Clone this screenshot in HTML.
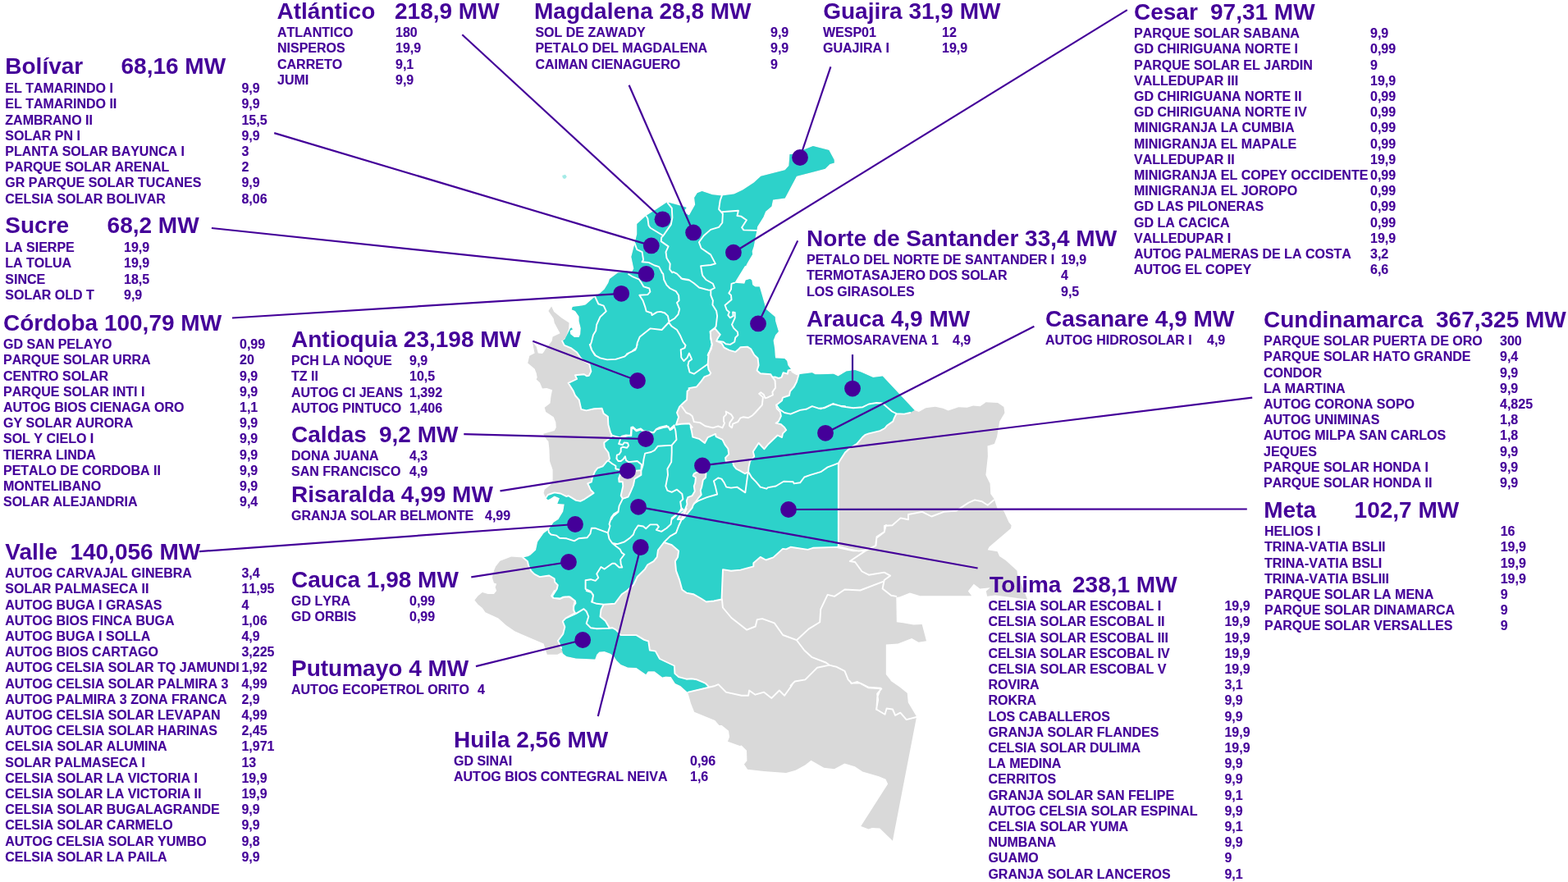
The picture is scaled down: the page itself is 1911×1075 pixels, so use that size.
<!DOCTYPE html>
<html lang="es"><head><meta charset="utf-8"><title>Granjas solares por departamento</title>
<style>
html,body{margin:0;padding:0;background:#fff;}
body{width:1911px;height:1075px;position:relative;overflow:hidden;font-family:"Liberation Sans",Arial,sans-serif;font-weight:bold;color:#440099;}
svg{position:absolute;left:0;top:0;}
.h,.r{position:absolute;white-space:pre;margin:0;font-kerning:none;font-variant-ligatures:none;}
.h{font-size:28px;line-height:32px;height:32px;font-kerning:normal;}
.r{font-size:16px;line-height:19px;height:19px;-webkit-text-stroke:0.15px #440099;}
.k::first-letter{letter-spacing:-2.6px;}
</style></head><body>
<svg width="1911" height="1075" viewBox="0 0 1911 1075">
<path d="M685.2,415.7 L689.4,411.5 L693.1,400.9 L693.6,393.6 L684.1,387.3 L675.2,379.9 L672.1,373.6 L668.4,378.9 L674.7,388.3 L675.7,393.6 L682.6,406.2 L673.6,410.4 L672.6,415.7 L665.2,425.1 L662.6,429.3 L661,430.9 L655.8,430.4 L653.7,422.5 L648.9,416.7 L650.5,425.1 L651.6,430.4 L645.3,433.7 L643.2,442.6 L651.6,449.4 L653.7,454.7 L654.7,459.9 L653.7,462.6 L657.9,466.3 L661,473.6 L666.3,473.1 L673.1,475.2 L671.5,483.1 L670.5,491.5 L663.7,496.7 L665.2,502 L674.7,508.3 L677.3,514.6 L677.8,520.9 L675.7,525.1 L662.1,528.8 L664.7,533.7 L668.4,537.9 L669.4,547.3 L670,562 L673.6,572.6 L673.6,585.2 L671.5,590.4 L663.7,596.7 L662.6,600.9 L665.2,606.7 L667.9,609.3 L671.5,607.2 L675.7,604.6 L682,607.2 L679.4,614.1 L687.8,614.6 L686.3,623.5 L680.5,633 L674.7,636.8 L668.4,645.8 L662.6,650 L655.2,660.5 L653.1,670.5 L646.3,676.8 L643.2,678.3 L640,678.9 L637.3,679.4 L623.1,678.4 L609.4,683.7 L604.1,690.5 L601.5,696.8 L599.9,704.1 L602,710.5 L605.2,711.5 L603.6,715.7 L605.2,719.9 L602,724.1 L594.7,724.1 L587.9,722 L582.6,726.2 L578.4,731.5 L582.6,736.7 L587.9,740.9 L591.5,746.2 L607.3,753.6 L616.8,762 L627.3,769.3 L635.7,773 L662.6,784.6 L666.8,797.8 L679.4,797.8 L684,795.2 L686.3,796.7 L690.5,799.9 L702,802.5 L725.2,803.6 L727.3,797.8 L730.4,794.6 L736.7,794.1 L744.1,796.7 L748.3,799.9 L751.5,805.1 L756.7,809.9 L765.1,813.6 L775.6,814.1 L787.2,822 L789.8,818.3 L797.7,818.3 L807.2,825.6 L811.4,824.6 L817.7,825.1 L822.9,833 L829.3,836.1 L837.7,843.4 L838.8,845.7 L842,857.2 L846.2,867.7 L871.3,878.1 L876.5,884 L879.7,884 L888,890.7 L889.1,898 L887,903.7 L901.6,909.1 L903.7,908.5 L910,914.8 L910.4,927.3 L906.9,931.5 L911.1,937.8 L930.9,939.9 L958.1,942 L969.7,938.8 L981.2,932.6 L988.5,926.7 L1004.2,935.7 L1016.8,937.2 L1029.3,930.5 L1041.9,934.2 L1051.3,940.5 L1071.2,946.2 L1079.5,949.7 L1082.1,955.6 L1049.2,1006.9 L1058.6,1010.4 L1062.8,1009 L1072.2,1009.6 L1087.9,1024.7 L1116.8,875 L1116.8,872.9 L1106.8,856.2 L1105.7,844.7 L1096.3,837.3 L1085.8,830 L1085,828.4 L1079.8,822.1 L1079.8,785.5 L1094.4,784.4 L1111.2,778.1 L1119.5,782.8 L1129,781.3 L1123.7,761 L1113.3,761.4 L1100.7,759.3 L1092.8,758.3 L1092.3,727.9 L1092.6,728.1 L1096.3,727.5 L1108.9,722.4 L1121.4,726.2 L1184.2,726.2 L1179.8,720.6 L1186.8,711.8 L1194.3,717.4 L1206.8,716.2 L1201.8,720.6 L1203.1,726.8 L1213.1,725.6 L1252.1,730.6 L1240.1,700.5 L1239.5,695.4 L1225.7,682.9 L1218.1,677.9 L1215.6,672.2 L1203.7,670.3 L1205.6,666.6 L1232,644 L1232.6,640.2 L1229.5,636.4 L1223.2,622.6 L1215.6,620.1 L1211.9,608.8 L1211.9,608.4 L1207.3,602.1 L1206.6,589.5 L1201.4,579.1 L1203.9,556 L1203.5,543.5 L1211.9,540.9 L1215,532.6 L1218.2,513.7 L1224.4,503.3 L1223.4,495.9 L1216.1,491.1 L1201.4,490.3 L1200,491.5 L1194.5,495.2 L1186.1,494.6 L1178.7,496.7 L1168.2,496.2 L1155.6,500.4 L1149.3,497.8 L1139.8,495.7 L1128.2,497.3 L1119.8,502 L1114.6,499.9 L1114.6,499.9 L1075.7,458.4 L1064.1,459.9 L1049.4,453.6 L1042,451 L1031.5,452.6 L1021.5,458.4 L1015.8,455.7 L1000,456.3 L993.5,456.3 L989.8,454.2 L973.5,456.3 L973.5,456.3 L970.9,456.3 L965.6,453.1 L964.5,450.7 L960.3,445.2 L959.1,440 L956.1,437 L945.1,436.5 L944.6,433 L944.1,425.1 L942.5,415.1 L945.1,408.3 L948.8,404.1 L945.1,391.5 L944.6,386.2 L933.5,376.8 L928.8,359.9 L925.7,349.4 L920.4,349.4 L917.2,347.3 L916.2,341.5 L914.1,340 L908.8,341.5 L907.3,345.8 L895.2,344.7 L895.2,344.7 L907.8,324.2 L909.9,323.7 L909.2,323.5 L912.4,317.8 L917.1,309.9 L916.6,306.2 L918.7,299.9 L920.8,288.3 L922,283 L923.1,276.2 L930.4,264.6 L933.1,257.8 L940.4,251.5 L942,243.6 L956.7,241.5 L970.9,214.7 L991.4,209.4 L1005.6,205.7 L1011.4,200 L1016.8,198.4 L1016.6,194.7 L1010.3,183.1 L990.9,177.9 L980.9,182.1 L966.2,188.1 L962.5,188.1 L961.4,202.1 L956.7,207.3 L927.3,214.7 L918.9,222.6 L905.2,231.5 L894.7,236.4 L879.8,238.4 L868.2,237.3 L855.6,233.1 L849.8,235.2 L846.2,241 L847.2,249.4 L839.9,262.6 L832.5,258.4 L836.7,253.1 L830.4,251 L815.7,247.1 L812.5,246.8 L800.4,254.7 L787.3,263.1 L776.3,273.1 L776.3,285.2 L773.6,296.7 L769.4,313 L772.4,327.4 L770.3,331 L753,332.6 L743,340 L741.4,344.7 L736.7,352.6 L731.5,357.3 L725.1,361.5 L713.6,371.5 L709.4,372.6 L697.8,374.1 L696.8,377.3 L701,378.9 L705.7,385.7 L705.7,391.5 L707.8,399.9 L707.3,407.2 L705.7,410.9 L699.9,410.9 L695.2,407.2 L694.7,403 L697.8,401.5 L696.8,399.4 L695.2,399.9 L691.5,407.2 L688.4,413.6 L685.2,415.7Z" fill="#D9D9D9"/>
<path d="M685.2,415.7 L687.8,420.9 L695.7,424.1 L703.1,429.5 L707.3,435.8 L711.5,440 L718.3,443.7 L719.4,448.4 L720.4,452.6 L717.8,457.8 L715.2,458.4 L712,456.3 L701,457.3 L703.1,462 L692.6,466.8 L698.9,476.8 L701,482 L705.7,487.3 L708.3,498.8 L714.6,500.4 L724.1,498.3 L733.6,497.8 L735.7,504.1 L740.9,507.8 L741.4,517.8 L744.1,527.4 L746.2,531 L740.9,535.8 L736.2,539.4 L736.7,545.2 L741.4,551.5 L743,558.9 L741.4,561.5 L739.9,562 L734.6,568.4 L728.3,570.5 L725.1,574.7 L722,582 L720.9,587.3 L716.2,589.4 L717.8,592.5 L719.9,597.3 L723.6,600.9 L718.8,604.1 L712.5,608.3 L707.3,610.9 L702,609.9 L692.6,604.1 L690.5,605.1 L683.1,601.5 L675.7,600.4 L667.9,603 L665.2,606.7 L667.9,609.3 L671.5,607.2 L675.7,604.6 L682,607.2 L679.4,614.1 L687.8,614.6 L686.3,623.5 L680.5,633 L674.7,636.8 L668.4,645.8 L662.6,650 L655.2,660.5 L653.1,670.5 L646.3,676.8 L643.2,678.3 L637.3,679.4 L637.3,679.4 L643,684.2 L644.1,689.4 L647.2,695.7 L651.5,699.9 L657.8,703.1 L669.3,701.5 L675.6,705.2 L676.2,709.4 L679.8,713.1 L678.8,717.8 L673,726.7 L674.6,728.9 L683,729.4 L686.1,727.8 L693.5,727.3 L700.9,732.5 L699.8,736.2 L698.8,743 L700.9,747.2 L689.4,753.6 L685.8,757.3 L688.4,764.1 L686.3,772.6 L680,781 L684.2,789.9 L686.3,796.7 L690.5,799.9 L702,802.5 L725.2,803.6 L727.3,797.8 L730.4,794.6 L736.7,794.1 L744.1,796.7 L748.3,799.9 L751.5,805.1 L756.7,809.9 L765.1,813.6 L775.6,814.1 L787.2,822 L789.8,818.3 L797.7,818.3 L807.2,825.6 L811.4,824.6 L817.7,825.1 L822.9,833 L829.3,836.1 L837.7,843.4 L863.9,837.1 L860,833 L856.6,831.4 L849.2,828.3 L842.9,827.2 L836.6,827.7 L827.1,825.1 L822.4,820.9 L821.9,811.5 L804,803 L798.8,793.6 L791.9,792.5 L790.3,781.5 L785.1,779.9 L775.6,774.1 L767.2,774.1 L756.7,774.1 L754.6,771.5 L750.4,767.3 L746.2,765.2 L743,765.7 L737.8,756.8 L731.5,751.5 L732.5,743.1 L735.7,736.8 L749.3,735.8 L757.8,724.2 L764.1,720 L772.4,712.5 L776.7,703 L786.1,693.6 L789.3,688.3 L796.6,684.1 L800.8,678.9 L801.9,670.5 L809.2,661 L818.7,664.1 L827.1,671.5 L826.1,678.9 L822.9,684.1 L824,695.7 L828.2,707.2 L831.3,718.8 L836.6,722.6 L845,724.2 L854.5,729.5 L860.7,733.5 L870,732.5 L879.5,730.5 L881,694.1 L891,695.7 L902.5,694.6 L918.3,690.4 L918.3,686.2 L926.7,678.9 L933.5,682.5 L942.5,679.4 L954,668.9 L958.2,669.4 L963.5,666.8 L984.5,669.9 L990.8,667.8 L1021.8,666.8 L1021.8,620 L1021.8,564.7 L1024.5,559.9 L1030,551.5 L1036,546 L1044.4,540.9 L1051,533 L1054.7,529.8 L1058.9,528.3 L1072.5,525.1 L1078.3,522 L1080.9,518.8 L1088.3,513.6 L1089.9,509.3 L1092.5,504.1 L1102,504.6 L1109.3,503 L1114.6,499.9 L1075.7,458.4 L1064.1,459.9 L1049.4,453.6 L1042,451 L1031.5,452.6 L1021.5,458.4 L1015.8,455.7 L1000,456.3 L993.5,456.3 L989.8,454.2 L973.5,456.3 L973.5,456.3 L970.9,456.3 L965.6,453.1 L964.5,450.7 L960.3,445.2 L959.1,440 L956.1,437 L945.1,436.5 L944.6,433 L944.1,425.1 L942.5,415.1 L945.1,408.3 L948.8,404.1 L945.1,391.5 L944.6,386.2 L933.5,376.8 L928.8,359.9 L925.7,349.4 L920.4,349.4 L917.2,347.3 L916.2,341.5 L914.1,340 L908.8,341.5 L907.3,345.8 L895.2,344.7 L895.2,344.7 L907.8,324.2 L909.9,323.7 L909.2,323.5 L912.4,317.8 L917.1,309.9 L916.6,306.2 L918.7,299.9 L920.8,288.3 L922,283 L923.1,276.2 L930.4,264.6 L933.1,257.8 L940.4,251.5 L942,243.6 L956.7,241.5 L970.9,214.7 L991.4,209.4 L1005.6,205.7 L1011.4,200 L1016.8,198.4 L1016.6,194.7 L1010.3,183.1 L990.9,177.9 L980.9,182.1 L966.2,188.1 L962.5,188.1 L961.4,202.1 L956.7,207.3 L927.3,214.7 L918.9,222.6 L905.2,231.5 L894.7,236.4 L879.8,238.4 L868.2,237.3 L855.6,233.1 L849.8,235.2 L846.2,241 L847.2,249.4 L839.9,262.6 L832.5,258.4 L836.7,253.1 L830.4,251 L815.7,247.1 L812.5,246.8 L800.4,254.7 L787.3,263.1 L776.3,273.1 L776.3,285.2 L773.6,296.7 L769.4,313 L772.4,327.4 L770.3,331 L753,332.6 L743,340 L741.4,344.7 L736.7,352.6 L731.5,357.3 L725.1,361.5 L713.6,371.5 L709.4,372.6 L697.8,374.1 L696.8,377.3 L701,378.9 L705.7,385.7 L705.7,391.5 L707.8,399.9 L707.3,407.2 L705.7,410.9 L699.9,410.9 L695.2,407.2 L694.7,403 L697.8,401.5 L696.8,399.4 L695.2,399.9 L691.5,407.2 L688.4,413.6 L685.2,415.7Z" fill="#2DD2CA"/>
<path d="M871,399.9 L877.8,407.8 L875.2,411.5 L873.1,415.7 L879.4,418.3 L882.6,423.7 L888.9,426.8 L896.2,428.9 L899.4,426.3 L902.5,423.2 L910.9,422.6 L915.1,425.3 L919.3,432.6 L923.6,436.8 L924.6,445.2 L922.5,451.5 L926.7,455.2 L939.3,456.3 L941.4,459.7 L944.6,459.4 L948.8,461 L952.5,459.9 L954.6,454.2 L959.8,455.7 L960.6,451.5 L964.5,450.7 L965.6,453.1 L970.9,456.3 L973.5,456.3 L970.9,465.2 L967.7,471.5 L963,476.8 L961.9,482 L954,484.6 L953,488.3 L947.7,492.5 L946.2,493.6 L946.7,497.8 L950.9,502 L951.9,507.2 L948.8,513.6 L945.6,515.7 L951.9,517.2 L956.1,520.9 L958.2,524.2 L954,528.4 L953,533.1 L947.7,530.5 L936.2,541.5 L931.4,547.3 L924.6,540 L917.8,550.5 L919.3,556.3 L914.1,562 L912.5,569.4 L912,575.2 L907.8,577.3 L902.5,574.1 L897.3,571.5 L894.1,567.3 L893.1,563.1 L884.7,562 L884.1,557.8 L888.3,553.6 L887.3,546.8 L883.6,542.1 L880.5,535.8 L872.6,532.1 L872,528.9 L862.6,533.1 L858.9,540 L852.6,535.2 L844.2,532.6 L843.1,526.3 L841.6,520 L843.7,520.9 L840,516.2 L830,516.7 L823.9,517.7 L827.1,508.3 L825,503 L828.2,495.7 L832.4,491.5 L837.1,487.3 L837.6,476.8 L840,474.7 L839.5,473.1 L848.9,471.5 L854.2,465.2 L858.4,459.4 L864.7,456.8 L866.3,454.7 L863.6,450.5 L862.6,444.2 L863.1,437.9 L863.6,430.5 L866.8,425.3 L867.8,420 L867.8,419.9 L866.3,412.5 L865.7,404.1 L871,399.9Z" fill="#D9D9D9" stroke="#fff" stroke-width="1.9" stroke-linejoin="round"/>
<path d="M755.6,578.9 L764,574.7 L781.4,573.1 L781.4,578.9 L773.5,583.6 L771.9,591.5 L768.8,598.8 L765.6,605.7 L758.8,607.8 L756.7,604.1 L759.3,592.5 L758.8,587.3 L754.6,587.3 L754.1,583.1Z" fill="#D9D9D9" stroke="#fff" stroke-width="1.9" stroke-linejoin="round"/>
<path d="M851,574.7 L845.8,577.3 L844.7,579.9 L847.9,582 L847.3,588.3 L845.8,592.5 L846.8,598.8 L843.7,604.1 L838.4,606.2 L836.8,610.4 L837.4,614.6 L835.3,619.9 L832.6,624.1 L830,626.2 L825.8,633 L832.1,633 L835.3,629.3 L838.4,625.1 L843.7,618.8 L844.7,615.7 L847.9,611.5 L851,607.2 L854.7,603 L853.7,597.8 L855.2,593.6 L856.8,585.2 L860,582 L860.5,577.3 L857.3,574.7Z" fill="#D9D9D9" stroke="#fff" stroke-width="1.9" stroke-linejoin="round"/>
<path d="M787.3,263.1 L789.4,266.3 L790.5,274.7 L792.6,277.8 L808.3,287.3 L817.8,273.6 L819.4,265.2 L818.8,253.6 L813.6,247.1 M808.3,287.3 L806.2,289.4 L805.7,294.1 L814.6,300.4 L811.5,307.2 L812.5,314.6 L816.7,321.4 L816.2,328.3 L819.4,332.3 M773.6,296.7 L776.3,304.1 L782.6,307.2 L784.1,316.7 L782.6,319.3 L790.5,319.9 L797.8,323.5 L803.1,325.1 L807.3,333 M879.8,238.4 L877.7,244.2 L876.1,255.2 L880.9,260.5 L880.3,271.5 L876.1,276.8 L866.1,279.9 L857.7,287.3 L851.9,295.2 L854.6,302.5 L866.1,310.4 L871.9,321.4 L866.1,323 L854.1,324.1 L855.6,333 M880,258.3 L899.9,256.7 L898.4,263 L903.1,263.6 L909.9,268.3 L904.1,277.2 L906.3,280.4 L922,280.9 M766.1,334.2 L770.3,336.8 L778.8,340.5 L781.4,344.2 L784.5,349.4 L791.4,351.5 L792.4,355.7 L789.3,359.1 L779.3,359.7 L783.5,366.3 L786.1,373.6 L787.7,379.4 L794,381.5 L794.5,384.1 L800.8,380.4 L805,379.9 L810.3,381.5 L814,385.2 L815.5,392.5 M725.1,361.5 L729.3,370.5 L735.7,372.6 L738.8,379.4 L731.5,386.2 L727.2,395.7 L726.2,403 L723,408.3 L720.9,416.7 L719.4,420.9 L721.5,427.2 L725.1,433 M815.5,392.5 L806.6,402 L792.4,400.4 L779.8,410.4 L776.7,417.8 L775.6,424.1 L770.3,428.3 L764,431.4 L763,433 M806.4,331.8 L808.2,333.7 L809.2,341 L812.4,347.3 L816.6,351.5 L824,355.2 L827.1,359.9 L827.6,366.3 L825,368.9 L828.2,376.8 L826.6,383.1 L821.9,388.3 L815.5,392 M815.5,393.6 L818.7,397.8 L825,402 L829.2,409.3 L832.4,416.7 L835.5,420.9 L834.5,424.1 L829.7,426.2 L830.3,433 M820.3,331.4 L825,333.7 L831.3,340 L840,341.5 M718.8,420 L720.9,426.3 L726.2,433.7 L731.5,436.3 L739.9,438.4 L750.4,437.9 L760.9,434.7 L766.1,430.5 L774.5,426.3 L776.7,420 M835.5,420.9 L834.4,424.1 L829.7,426.2 L830.3,435.8 L833.4,440 L837.6,435.8 L840,430.5 L843.1,437.9 L839.5,440.5 L838.4,445.2 L840.5,453.6 L845.8,455.7 L853.1,450.5 L862.6,443.7 M756.7,533 L768.8,530.4 L769.3,520.9 L771.4,520.4 L775.6,524.1 L780.9,522.5 L784,525.1 L796.6,527.2 L799.8,523 L804,520.9 L812.4,518.8 L816.6,523 L821.9,518.3 M895.2,344.7 L891.5,345.8 L891,352.6 L888.3,357.3 L891,359.9 L891.5,365.2 L883.6,372 L885.7,377.8 L888.9,380.4 L887.3,384.1 L889.9,387.3 L893.6,385.2 L893.1,380.4 L895.7,381 L895.7,387.3 L892,395.7 L894.1,399.9 L898.9,404.6 L899.4,408.3 L896.2,411.5 L895.2,416.7 L889.9,419.9 L884.7,419.3 L881.5,416.7 L874.1,415.7 M855.5,333 L856.3,335.8 L860.5,341 L868.9,345.8 L871,351 L866.3,353.4 M830,339.4 L839.5,341 L845.8,345.2 L852.1,350.5 L863.6,353.6 L866.3,353.4 M866.3,353.4 L866.3,359.9 L868.9,366.3 L868.4,371.5 L873.1,378.9 L874.1,385.2 L872.6,397.8 L871,399.9 L865.7,404.1 L866.3,412.5 L867.8,419.9 L864.7,429.3 L862.6,433 M946.2,493.6 L949.8,498.8 L956.1,503 L963.5,504.6 L975.1,499.9 L982.4,498.8 L989.8,495.2 L998.2,497.8 L1004.5,497.3 L1015,492.5 L1024.5,494.6 L1030,495.2 M1000,498.3 L1006.3,496.2 L1015.2,492 L1025.2,495.2 L1039.9,497.3 L1051.5,496.2 L1058.9,492.5 L1068.3,491 L1075.7,491.5 L1079.9,495.2 L1087.2,501.5 L1092.5,504.1 M941.4,459.4 L944.6,464.1 L945.1,472.6 L941.4,477.8 L941.9,481.5 L935.1,484.6 L932.5,485.2 L930.9,481 L927.2,478.3 L925.1,479.9 L929.9,484.1 L928.8,493.6 L920.4,503 L917.2,506.2 L912,509.3 L905.7,508.3 L902.5,509.3 L899.4,514.1 L893.1,516.7 L892,521.4 L888.9,518.8 L889.4,515.1 L893.6,509.3 L891,505.1 L884.7,501.5 L885.2,505.1 L882,508.3 L882,513.6 L883.1,515.7 L880.5,521.4 L875.2,519.3 L868.9,521.4 L859.4,519.3 L853.1,515.1 L845.8,514.1 L843.7,507.2 L840.5,504.6 L836.3,503 L831.1,495.7 M745.1,530.5 L756.7,533.7 L757.7,531.6 L763,530.5 L769.3,531 L769.8,523.2 L771.4,521.6 L775.6,525.3 L780.9,523.7 L785.1,526.3 L796.6,527.4 L799.8,523.7 L808.2,521.1 L814.5,520 L816.6,524.2 L818.7,523.2 L821.9,520 M756.7,533.7 L754.1,541 L758.8,542.1 L760.9,539.4 L765.1,540 L766.1,543.1 L764,545.8 L758.8,544.7 L756.7,546.3 L756.7,550.5 L754.6,553.6 L751.9,554.7 L751.4,558.9 L753.5,562 L756.7,562 L759.8,559.4 L761.9,556.3 L763,561 L766.1,563.1 L776.7,562 L781.9,566.3 L781.4,572.6 M821.9,520 L823.4,525.3 L824.5,535.8 L818.7,542.6 L801.9,543.7 L797.7,548.9 L793.5,551 L786.1,552.6 L784.5,559.9 L783.5,567.3 L781.9,572.6 M818.7,542.6 L818.7,551.5 L818.2,563.1 L813.4,571.5 L814,578.9 L811.3,592.5 L813.4,597.8 L818.7,599.9 L825,596.7 L831.3,602 L832.4,608.3 L829.2,611.5 L830.3,618.8 L832.4,620.9 L827.1,625.1 L822.9,629.3 L818.7,633 M758.8,607.8 L757.7,610.4 L754.6,616.7 L753.5,624.1 L747.2,629.3 L745.1,633 M741.4,561.5 L746.2,565.2 L750.4,567.8 L750.4,571.5 L755.6,572.6 M911.5,576.8 L909.9,588.3 L908.3,600.4 L898.3,593.6 L891,594.6 L885.2,593.6 L882.6,588.3 L879.4,583.6 L875.2,582.5 L869.9,586.2 L872,593.6 L874.1,602.5 L861.5,606.2 L851,610.4 L845.8,613.6 M912.5,575.7 L916.2,582 L921.5,587.3 L926.7,593.6 L934.1,595.7 L936.2,594.1 L945.6,592.5 L955.1,586.7 L966.7,587.3 L967.7,589.4 L975.1,588.3 L980.3,581.5 L987.7,578.9 L1000.3,575.2 L1008.7,569.4 L1021.3,564.7 M668.4,645.8 L668.9,648.9 L671.5,651.5 L677.8,652.6 L682,655.7 L690.5,656.3 L699.9,659.4 L705.2,656.3 L715.7,655.2 L719.4,650.5 L720.9,643.7 L725.1,643.7 L740.9,649.4 M740.9,649.4 L743.5,641 L742.5,638.9 L745.1,630.5 L748.3,626.3 L753.5,623.2 L754.1,620 M740.9,649.4 L742.5,656.8 L746.2,662 L752.5,663.1 L760.9,660.5 L768.2,655.2 L771.9,651.5 L773.5,646.8 L777.7,640.5 L784,641.5 L787.2,644.2 L792.4,639.4 L800.8,639.4 L802.9,642.1 L799.8,645.8 L806.1,647.9 L812.4,643.7 L817.6,638.9 L818.7,631.6 L828.2,624.2 L830.3,620 M746.2,662 L751.4,666.3 L755.6,669.4 L757.7,673.6 L760.9,675.7 L756.2,682 L756.7,687.3 L758.3,691.5 L754.6,691.5 L749.3,686.7 L746.2,686.7 L736.7,693.6 L732.5,691 L727.2,699.4 L729.3,704.1 L725.7,707.8 L719.9,706.2 L713.6,707.2 L713.6,717.8 L719.9,720.9 L723,725.1 L722,733 M1080,640.8 L1087.5,640.2 L1097.6,631.4 L1107,633.3 L1107,627 L1124,623.9 L1135.3,629.5 L1150.3,623.9 L1165.4,622.6 L1172.9,617.6 L1180.5,612.6 L1188,609.4 L1196.8,611.3 L1203.7,615.7 L1211.2,609.4 M1021.4,665.9 L1034,669.1 L1046.5,671.6 L1057,670.1 L1067.5,664.9 L1068.5,654.4 L1077.9,648.1 L1077.9,640.8 L1080.4,640.2 M1021.2,667.2 L1040,671.4 L1054.7,671.4 L1035.8,684 L1042.1,685 L1050.5,696.5 L1058.8,700.7 L1077.7,697.6 L1085,701.7 L1077.7,707 L1075.6,717.4 L1086.1,725.8 L1092.3,726.9 M1054.7,671.4 L1067.2,665.1 L1068.3,655.7 L1077.7,648.4 L1079.8,640 M879.9,730 L880.9,740.5 L891.4,753 L910.2,767.7 L920.7,763.5 L922.8,755.1 L929.1,754.1 L943.7,759.3 L954.2,774 L970.9,780.2 M970.9,780.2 L985.6,766.6 L999.2,758.3 L1000.2,742.6 L1008.6,724.8 L1017,726.9 L1029.5,718.5 L1048.4,719.5 L1075.6,709.1 M970.9,780.2 L980.4,792.8 L989.8,801.2 L1006.5,807.5 L1010.7,810.6 L1019.1,812.7 L1029.5,817.9 L1033.7,828.4 L1037.9,832.6 L1048.4,832.6 L1058.8,837.8 L1073.5,838.8 L1069.3,849.3 L1068.3,865 M1010.7,810.6 L996.1,813.7 L985.6,824.2 L981.4,828.4 L968.8,830.5 L963.6,835.7 M838.8,843.6 L870.2,836.3 L875.5,834.2 L884.9,843.6 L903.7,847.8 L912.1,847.8 L913.1,841.5 L920.5,846.7 L930.9,843.6 L940.4,850.9 L949.8,841.5 L956.1,847.8 L964.4,836.3 L966.5,832.5 M1035.6,830 L1037.7,833.1 L1045,831 L1058.6,838.4 L1074.3,839.4 L1069.1,845.7 L1070.1,853 L1068,864.5 L1078.5,870.8 L1080.6,863.5 L1087.9,864.5 L1091.1,871.9 L1097.3,868.7 L1104.7,877.1 L1116.8,874 M675.8,720 L672.1,726.3 L674.2,728.9 L682.6,730 L688.4,727.4 L694.7,727.4 L701,732.6 L701.5,735.2 L698.9,738.9 L699.4,744.2 L700.5,746.3 L702,747.9 M684.2,789.9 L680,781 L686.3,772.6 L688.4,764.1 L685.8,757.3 L689.4,753.6 L702,747.9 L711.5,742.1 L714.7,745.2 L717.3,751.5 L714.7,759.9 L719.9,765.2 L727.3,766.3 L743,765.7 L746.2,765.2 L750.4,767.3 L754.6,771.5 L756.7,774.1 L767.2,774.1 L775.6,774.1 L785.1,779.9 L790.3,781.5 L791.9,792.5 L798.8,793.6 L804,803 L821.9,811.5 L822.4,820.9 L827.1,825.1 L836.6,827.7 L842.9,827.2 L849.2,828.3 L856.6,831.4 L860,833 M836.6,620 L832.4,629.5 L827.1,641 L824,649.4 L816.6,653.6 L809.2,661 M714.7,720 L721,722.1 L723.1,726.3 L721,733.7 L727.3,735.8 L735.7,736.8 M685.2,415.7 L687.8,420.9 L695.7,424.1 L703.1,429.5 L707.3,435.8 L711.5,440 L718.3,443.7 L719.4,448.4 L720.4,452.6 L717.8,457.8 L715.2,458.4 L712,456.3 L701,457.3 L703.1,462 L692.6,466.8 L698.9,476.8 L701,482 L705.7,487.3 L708.3,498.8 L714.6,500.4 L724.1,498.3 L733.6,497.8 L735.7,504.1 L740.9,507.8 L741.4,517.8 L744.1,527.4 L746.2,531 L740.9,535.8 L736.2,539.4 L736.7,545.2 L741.4,551.5 L743,558.9 L741.4,561.5 L739.9,562 L734.6,568.4 L728.3,570.5 L725.1,574.7 L722,582 L720.9,587.3 L716.2,589.4 L717.8,592.5 L719.9,597.3 L723.6,600.9 L718.8,604.1 L712.5,608.3 L707.3,610.9 L702,609.9 L692.6,604.1 L690.5,605.1 L683.1,601.5 L675.7,600.4 L667.9,603 L665.2,606.7 M637.3,679.4 L643,684.2 L644.1,689.4 L647.2,695.7 L651.5,699.9 L657.8,703.1 L669.3,701.5 L675.6,705.2 L676.2,709.4 L679.8,713.1 L678.8,717.8 L673,726.7 L674.6,728.9 L683,729.4 L686.1,727.8 L693.5,727.3 L700.9,732.5 L699.8,736.2 L698.8,743 L700.9,747.2 L689.4,753.6 L685.8,757.3 L688.4,764.1 L686.3,772.6 L680,781 L684.2,789.9 M863.9,837.1 L860,833 L856.6,831.4 L849.2,828.3 L842.9,827.2 L836.6,827.7 L827.1,825.1 L822.4,820.9 L821.9,811.5 L804,803 L798.8,793.6 L791.9,792.5 L790.3,781.5 L785.1,779.9 L775.6,774.1 L767.2,774.1 L756.7,774.1 L754.6,771.5 L750.4,767.3 L746.2,765.2 L743,765.7 L737.8,756.8 L731.5,751.5 L732.5,743.1 L735.7,736.8 L749.3,735.8 L757.8,724.2 L764.1,720 L772.4,712.5 L776.7,703 L786.1,693.6 L789.3,688.3 L796.6,684.1 L800.8,678.9 L801.9,670.5 L809.2,661 L818.7,664.1 L827.1,671.5 L826.1,678.9 L822.9,684.1 L824,695.7 L828.2,707.2 L831.3,718.8 L836.6,722.6 L845,724.2 L854.5,729.5 L860.7,733.5 L870,732.5 L879.5,730.5 L881,694.1 L891,695.7 L902.5,694.6 L918.3,690.4 L918.3,686.2 L926.7,678.9 L933.5,682.5 L942.5,679.4 L954,668.9 L958.2,669.4 L963.5,666.8 L984.5,669.9 L990.8,667.8 L1021.8,666.8 L1021.8,620 L1021.8,564.7 L1024.5,559.9 L1030,551.5 L1036,546 L1044.4,540.9 L1051,533 L1054.7,529.8 L1058.9,528.3 L1072.5,525.1 L1078.3,522 L1080.9,518.8 L1088.3,513.6 L1089.9,509.3 L1092.5,504.1 L1102,504.6 L1109.3,503" fill="none" stroke="#fff" stroke-width="1.9" stroke-linejoin="round" stroke-linecap="round"/>
<path d="M685.2,214 L689,212.8 L690.8,215.6 L688.6,217.9 L686,217.2Z" fill="#A5EBE7"/>
<g stroke="#440099" stroke-width="2.2"><line x1="563.3" y1="42.2" x2="807.5" y2="267.3"/><line x1="334.2" y1="162.1" x2="793.8" y2="299.4"/><line x1="257.9" y1="278" x2="787.6" y2="333.9"/><line x1="283" y1="387.5" x2="757.2" y2="357.8"/><line x1="649.3" y1="415.8" x2="777" y2="464"/><line x1="565.3" y1="529.1" x2="787" y2="535"/><line x1="609.5" y1="598.4" x2="765" y2="573.8"/><line x1="242.8" y1="672.1" x2="701" y2="639"/><line x1="574.3" y1="703.3" x2="693" y2="685"/><line x1="580" y1="812.1" x2="710.2" y2="780"/><line x1="728.8" y1="872.9" x2="780.8" y2="667"/><line x1="766.6" y1="103.8" x2="845.1" y2="283.4"/><line x1="1012.4" y1="81.4" x2="975" y2="192"/><line x1="1373.8" y1="12.1" x2="893.9" y2="307.7"/><line x1="972.2" y1="293.4" x2="924" y2="394.4"/><line x1="1039" y1="432.1" x2="1039" y2="473.6"/><line x1="1260.4" y1="397.8" x2="1006" y2="527.8"/><line x1="1526.2" y1="484.6" x2="856" y2="567.4"/><line x1="1519.8" y1="620.5" x2="961" y2="621"/><line x1="1191.6" y1="692.5" x2="778" y2="617.8"/></g>
<g fill="#440099"><circle cx="975" cy="192" r="9.9"/><circle cx="807.5" cy="267.3" r="9.9"/><circle cx="845.1" cy="283.4" r="9.9"/><circle cx="893.9" cy="307.7" r="9.9"/><circle cx="793.8" cy="299.4" r="9.9"/><circle cx="787.6" cy="333.9" r="9.9"/><circle cx="757.2" cy="357.8" r="9.9"/><circle cx="924" cy="394.4" r="9.9"/><circle cx="777" cy="464" r="9.9"/><circle cx="787" cy="535" r="9.9"/><circle cx="1039" cy="473.6" r="9.9"/><circle cx="1006" cy="527.8" r="9.9"/><circle cx="765" cy="573.8" r="9.9"/><circle cx="856" cy="567.4" r="9.9"/><circle cx="778" cy="617.8" r="9.9"/><circle cx="961" cy="621" r="9.9"/><circle cx="701" cy="639" r="9.9"/><circle cx="693" cy="685" r="9.9"/><circle cx="780.8" cy="667" r="9.9"/><circle cx="710.2" cy="780" r="9.9"/></g>
</svg>
<div class="h" style="left:337.5px;top:-2px">Atlántico</div>
<div class="h" style="left:481px;top:-2px">218,9 MW</div>
<div class="r" style="left:338px;top:30px">ATLANTICO</div><div class="r" style="left:482px;top:30px">180</div>
<div class="r" style="left:338px;top:49px">NISPEROS</div><div class="r" style="left:482px;top:49px">19,9</div>
<div class="r" style="left:338px;top:69px">CARRETO</div><div class="r" style="left:482px;top:69px">9,1</div>
<div class="r" style="left:338px;top:88px">JUMI</div><div class="r" style="left:482px;top:88px">9,9</div>
<div class="h" style="left:651px;top:-2px">Magdalena 28,8 MW</div>
<div class="r" style="left:652.4px;top:30px">SOL DE ZAWADY</div><div class="r" style="left:939px;top:30px">9,9</div>
<div class="r" style="left:652.4px;top:49px">PETALO DEL MAGDALENA</div><div class="r" style="left:939px;top:49px">9,9</div>
<div class="r" style="left:652.4px;top:69px">CAIMAN CIENAGUERO</div><div class="r" style="left:939px;top:69px">9</div>
<div class="h" style="left:1003.2px;top:-2px">Guajira 31,9 MW</div>
<div class="r" style="left:1003px;top:30px">WESP01</div><div class="r" style="left:1148px;top:30px">12</div>
<div class="r" style="left:1003px;top:49px">GUAJIRA I</div><div class="r" style="left:1148px;top:49px">19,9</div>
<div class="h" style="left:1382px;top:-1px">Cesar</div>
<div class="h" style="left:1475px;top:-1px">97,31 MW</div>
<div class="r" style="left:1382px;top:31px">PARQUE SOLAR SABANA</div><div class="r" style="left:1670px;top:31px">9,9</div>
<div class="r" style="left:1382px;top:50px">GD CHIRIGUANA NORTE I</div><div class="r" style="left:1670px;top:50px">0,99</div>
<div class="r" style="left:1382px;top:70px">PARQUE SOLAR EL JARDIN</div><div class="r" style="left:1670px;top:70px">9</div>
<div class="r" style="left:1382px;top:89px">VALLEDUPAR III</div><div class="r" style="left:1670px;top:89px">19,9</div>
<div class="r" style="left:1382px;top:108px">GD CHIRIGUANA NORTE II</div><div class="r" style="left:1670px;top:108px">0,99</div>
<div class="r" style="left:1382px;top:127px">GD CHIRIGUANA NORTE IV</div><div class="r" style="left:1670px;top:127px">0,99</div>
<div class="r" style="left:1382px;top:146px">MINIGRANJA LA CUMBIA</div><div class="r" style="left:1670px;top:146px">0,99</div>
<div class="r" style="left:1382px;top:166px">MINIGRANJA EL MAPALE</div><div class="r" style="left:1670px;top:166px">0,99</div>
<div class="r" style="left:1382px;top:185px">VALLEDUPAR II</div><div class="r" style="left:1670px;top:185px">19,9</div>
<div class="r" style="left:1382px;top:204px">MINIGRANJA EL COPEY OCCIDENTE</div><div class="r" style="left:1670px;top:204px">0,99</div>
<div class="r" style="left:1382px;top:223px">MINIGRANJA EL JOROPO</div><div class="r" style="left:1670px;top:223px">0,99</div>
<div class="r" style="left:1382px;top:242px">GD LAS PILONERAS</div><div class="r" style="left:1670px;top:242px">0,99</div>
<div class="r" style="left:1382px;top:262px">GD LA CACICA</div><div class="r" style="left:1670px;top:262px">0,99</div>
<div class="r" style="left:1382px;top:281px">VALLEDUPAR I</div><div class="r" style="left:1670px;top:281px">19,9</div>
<div class="r" style="left:1382px;top:300px">AUTOG PALMERAS DE LA COSTA</div><div class="r" style="left:1670px;top:300px">3,2</div>
<div class="r" style="left:1382px;top:319px">AUTOG EL COPEY</div><div class="r" style="left:1670px;top:319px">6,6</div>
<div class="h" style="left:6.3px;top:65px">Bolívar</div>
<div class="h" style="left:147.5px;top:65px">68,16 MW</div>
<div class="r" style="left:6.3px;top:98px">EL TAMARINDO I</div><div class="r" style="left:294.4px;top:98px">9,9</div>
<div class="r" style="left:6.3px;top:117px">EL TAMARINDO II</div><div class="r" style="left:294.4px;top:117px">9,9</div>
<div class="r" style="left:6.3px;top:137px">ZAMBRANO II</div><div class="r" style="left:294.4px;top:137px">15,5</div>
<div class="r" style="left:6.3px;top:156px">SOLAR PN I</div><div class="r" style="left:294.4px;top:156px">9,9</div>
<div class="r" style="left:6.3px;top:175px">PLANTA SOLAR BAYUNCA I</div><div class="r" style="left:294.4px;top:175px">3</div>
<div class="r" style="left:6.3px;top:194px">PARQUE SOLAR ARENAL</div><div class="r" style="left:294.4px;top:194px">2</div>
<div class="r" style="left:6.3px;top:213px">GR PARQUE SOLAR TUCANES</div><div class="r" style="left:294.4px;top:213px">9,9</div>
<div class="r" style="left:6.3px;top:233px">CELSIA SOLAR BOLIVAR</div><div class="r" style="left:294.4px;top:233px">8,06</div>
<div class="h" style="left:6.3px;top:259px">Sucre</div>
<div class="h" style="left:130.6px;top:259px">68,2 MW</div>
<div class="r" style="left:6.3px;top:292px">LA SIERPE</div><div class="r" style="left:151px;top:292px">19,9</div>
<div class="r" style="left:6.3px;top:311px">LA TOLUA</div><div class="r" style="left:151px;top:311px">19,9</div>
<div class="r" style="left:6.3px;top:331px">SINCE</div><div class="r" style="left:151px;top:331px">18,5</div>
<div class="r" style="left:6.3px;top:350px">SOLAR OLD T</div><div class="r" style="left:151px;top:350px">9,9</div>
<div class="h" style="left:4px;top:378px">Córdoba 100,79 MW</div>
<div class="r" style="left:4px;top:410px">GD SAN PELAYO</div><div class="r" style="left:292px;top:410px">0,99</div>
<div class="r" style="left:4px;top:429px">PARQUE SOLAR URRA</div><div class="r" style="left:292px;top:429px">20</div>
<div class="r" style="left:4px;top:449px">CENTRO SOLAR</div><div class="r" style="left:292px;top:449px">9,9</div>
<div class="r" style="left:4px;top:468px">PARQUE SOLAR INTI I</div><div class="r" style="left:292px;top:468px">9,9</div>
<div class="r" style="left:4px;top:487px">AUTOG BIOS CIENAGA ORO</div><div class="r" style="left:292px;top:487px">1,1</div>
<div class="r" style="left:4px;top:506px">GY SOLAR AURORA</div><div class="r" style="left:292px;top:506px">9,9</div>
<div class="r" style="left:4px;top:525px">SOL Y CIELO I</div><div class="r" style="left:292px;top:525px">9,9</div>
<div class="r" style="left:4px;top:545px">TIERRA LINDA</div><div class="r" style="left:292px;top:545px">9,9</div>
<div class="r" style="left:4px;top:564px">PETALO DE CORDOBA II</div><div class="r" style="left:292px;top:564px">9,9</div>
<div class="r" style="left:4px;top:583px">MONTELIBANO</div><div class="r" style="left:292px;top:583px">9,9</div>
<div class="r" style="left:4px;top:602px">SOLAR ALEJANDRIA</div><div class="r" style="left:292px;top:602px">9,4</div>
<div class="h" style="left:355px;top:398px">Antioquia 23,198 MW</div>
<div class="r" style="left:355px;top:430px">PCH LA NOQUE</div><div class="r" style="left:499px;top:430px">9,9</div>
<div class="r" style="left:355px;top:449px">TZ II</div><div class="r" style="left:499px;top:449px">10,5</div>
<div class="r" style="left:355px;top:469px">AUTOG CI JEANS</div><div class="r" style="left:499px;top:469px">1,392</div>
<div class="r" style="left:355px;top:488px">AUTOG PINTUCO</div><div class="r" style="left:499px;top:488px">1,406</div>
<div class="h" style="left:355px;top:514px">Caldas</div>
<div class="h" style="left:462px;top:514px">9,2 MW</div>
<div class="r" style="left:355px;top:546px">DONA JUANA</div><div class="r" style="left:499px;top:546px">4,3</div>
<div class="r" style="left:355px;top:565px">SAN FRANCISCO</div><div class="r" style="left:499px;top:565px">4,9</div>
<div class="h" style="left:355px;top:587px">Risaralda 4,99 MW</div>
<div class="r" style="left:355px;top:619px">GRANJA SOLAR BELMONTE</div><div class="r" style="left:591px;top:619px">4,99</div>
<div class="h" style="left:6.3px;top:657px">Valle</div>
<div class="h" style="left:85.4px;top:657px">140,056 MW</div>
<div class="r" style="left:6.3px;top:689px">AUTOG CARVAJAL GINEBRA</div><div class="r" style="left:294.4px;top:689px">3,4</div>
<div class="r" style="left:6.3px;top:708px">SOLAR PALMASECA II</div><div class="r" style="left:294.4px;top:708px">11,95</div>
<div class="r" style="left:6.3px;top:728px">AUTOG BUGA I GRASAS</div><div class="r" style="left:294.4px;top:728px">4</div>
<div class="r" style="left:6.3px;top:747px">AUTOG BIOS FINCA BUGA</div><div class="r" style="left:294.4px;top:747px">1,06</div>
<div class="r" style="left:6.3px;top:766px">AUTOG BUGA I SOLLA</div><div class="r" style="left:294.4px;top:766px">4,9</div>
<div class="r" style="left:6.3px;top:785px">AUTOG BIOS CARTAGO</div><div class="r" style="left:294.4px;top:785px">3,225</div>
<div class="r" style="left:6.3px;top:804px">AUTOG CELSIA SOLAR TQ JAMUNDI</div><div class="r" style="left:294.4px;top:804px">1,92</div>
<div class="r" style="left:6.3px;top:824px">AUTOG CELSIA SOLAR PALMIRA 3</div><div class="r" style="left:294.4px;top:824px">4,99</div>
<div class="r" style="left:6.3px;top:843px">AUTOG PALMIRA 3 ZONA FRANCA</div><div class="r" style="left:294.4px;top:843px">2,9</div>
<div class="r" style="left:6.3px;top:862px">AUTOG CELSIA SOLAR LEVAPAN</div><div class="r" style="left:294.4px;top:862px">4,99</div>
<div class="r" style="left:6.3px;top:881px">AUTOG CELSIA SOLAR HARINAS</div><div class="r" style="left:294.4px;top:881px">2,45</div>
<div class="r" style="left:6.3px;top:900px">CELSIA SOLAR ALUMINA</div><div class="r" style="left:294.4px;top:900px">1,971</div>
<div class="r" style="left:6.3px;top:920px">SOLAR PALMASECA I</div><div class="r" style="left:294.4px;top:920px">13</div>
<div class="r" style="left:6.3px;top:939px">CELSIA SOLAR LA VICTORIA I</div><div class="r" style="left:294.4px;top:939px">19,9</div>
<div class="r" style="left:6.3px;top:958px">CELSIA SOLAR LA VICTORIA II</div><div class="r" style="left:294.4px;top:958px">19,9</div>
<div class="r" style="left:6.3px;top:977px">CELSIA SOLAR BUGALAGRANDE</div><div class="r" style="left:294.4px;top:977px">9,9</div>
<div class="r" style="left:6.3px;top:996px">CELSIA SOLAR CARMELO</div><div class="r" style="left:294.4px;top:996px">9,9</div>
<div class="r" style="left:6.3px;top:1016px">AUTOG CELSIA SOLAR YUMBO</div><div class="r" style="left:294.4px;top:1016px">9,8</div>
<div class="r" style="left:6.3px;top:1035px">CELSIA SOLAR LA PAILA</div><div class="r" style="left:294.4px;top:1035px">9,9</div>
<div class="h" style="left:355px;top:691px">Cauca 1,98 MW</div>
<div class="r" style="left:355px;top:723px">GD LYRA</div><div class="r" style="left:499px;top:723px">0,99</div>
<div class="r" style="left:355px;top:742px">GD ORBIS</div><div class="r" style="left:499px;top:742px">0,99</div>
<div class="h" style="left:355px;top:799px">Putumayo 4 MW</div>
<div class="r" style="left:355px;top:831px">AUTOG ECOPETROL ORITO</div><div class="r" style="left:582px;top:831px">4</div>
<div class="h" style="left:553px;top:886px">Huila 2,56 MW</div>
<div class="r" style="left:553px;top:918px">GD SINAI</div><div class="r" style="left:841px;top:918px">0,96</div>
<div class="r" style="left:553px;top:937px">AUTOG BIOS CONTEGRAL NEIVA</div><div class="r" style="left:841px;top:937px">1,6</div>
<div class="h" style="left:983px;top:275px">Norte de Santander 33,4 MW</div>
<div class="r" style="left:983px;top:307px">PETALO DEL NORTE DE SANTANDER I</div><div class="r" style="left:1293px;top:307px">19,9</div>
<div class="r" style="left:983px;top:326px">TERMOTASAJERO DOS SOLAR</div><div class="r" style="left:1293px;top:326px">4</div>
<div class="r" style="left:983px;top:346px">LOS GIRASOLES</div><div class="r" style="left:1293px;top:346px">9,5</div>
<div class="h" style="left:983px;top:373px">Arauca 4,9 MW</div>
<div class="r" style="left:983px;top:405px">TERMOSARAVENA 1</div><div class="r" style="left:1161px;top:405px">4,9</div>
<div class="h" style="left:1274px;top:373px">Casanare 4,9 MW</div>
<div class="r" style="left:1274px;top:405px">AUTOG HIDROSOLAR I</div><div class="r" style="left:1471px;top:405px">4,9</div>
<div class="h" style="left:1540px;top:374px">Cundinamarca</div>
<div class="h" style="left:1750px;top:374px">367,325 MW</div>
<div class="r" style="left:1540px;top:406px">PARQUE SOLAR PUERTA DE ORO</div><div class="r" style="left:1828px;top:406px">300</div>
<div class="r" style="left:1540px;top:425px">PARQUE SOLAR HATO GRANDE</div><div class="r" style="left:1828px;top:425px">9,4</div>
<div class="r" style="left:1540px;top:445px">CONDOR</div><div class="r" style="left:1828px;top:445px">9,9</div>
<div class="r" style="left:1540px;top:464px">LA MARTINA</div><div class="r" style="left:1828px;top:464px">9,9</div>
<div class="r" style="left:1540px;top:483px">AUTOG CORONA SOPO</div><div class="r" style="left:1828px;top:483px">4,825</div>
<div class="r" style="left:1540px;top:502px">AUTOG UNIMINAS</div><div class="r" style="left:1828px;top:502px">1,8</div>
<div class="r" style="left:1540px;top:521px">AUTOG MILPA SAN CARLOS</div><div class="r" style="left:1828px;top:521px">1,8</div>
<div class="r" style="left:1540px;top:541px">JEQUES</div><div class="r" style="left:1828px;top:541px">9,9</div>
<div class="r" style="left:1540px;top:560px">PARQUE SOLAR HONDA I</div><div class="r" style="left:1828px;top:560px">9,9</div>
<div class="r" style="left:1540px;top:579px">PARQUE SOLAR HONDA II</div><div class="r" style="left:1828px;top:579px">9,9</div>
<div class="h" style="left:1540.3px;top:606px">Meta</div>
<div class="h" style="left:1650.6px;top:606px">102,7 MW</div>
<div class="r" style="left:1541px;top:638px">HELIOS I</div><div class="r" style="left:1828.7px;top:638px">16</div>
<div class="r" style="left:1541px;top:657px">TRINA-VATIA BSLII</div><div class="r" style="left:1828.7px;top:657px">19,9</div>
<div class="r" style="left:1541px;top:677px">TRINA-VATIA BSLI</div><div class="r" style="left:1828.7px;top:677px">19,9</div>
<div class="r" style="left:1541px;top:696px">TRINA-VATIA BSLIII</div><div class="r" style="left:1828.7px;top:696px">19,9</div>
<div class="r" style="left:1541px;top:715px">PARQUE SOLAR LA MENA</div><div class="r" style="left:1828.7px;top:715px">9</div>
<div class="r" style="left:1541px;top:734px">PARQUE SOLAR DINAMARCA</div><div class="r" style="left:1828.7px;top:734px">9</div>
<div class="r" style="left:1541px;top:753px">PARQUE SOLAR VERSALLES</div><div class="r" style="left:1828.7px;top:753px">9</div>
<div class="h k" style="left:1205.8px;top:697px">Tolima</div>
<div class="h" style="left:1307px;top:697px">238,1 MW</div>
<div class="r" style="left:1204.4px;top:729px">CELSIA SOLAR ESCOBAL I</div><div class="r" style="left:1492.4px;top:729px">19,9</div>
<div class="r" style="left:1204.4px;top:748px">CELSIA SOLAR ESCOBAL II</div><div class="r" style="left:1492.4px;top:748px">19,9</div>
<div class="r" style="left:1204.4px;top:768px">CELSIA SOLAR ESCOBAL III</div><div class="r" style="left:1492.4px;top:768px">19,9</div>
<div class="r" style="left:1204.4px;top:787px">CELSIA SOLAR ESCOBAL IV</div><div class="r" style="left:1492.4px;top:787px">19,9</div>
<div class="r" style="left:1204.4px;top:806px">CELSIA SOLAR ESCOBAL V</div><div class="r" style="left:1492.4px;top:806px">19,9</div>
<div class="r" style="left:1204.4px;top:825px">ROVIRA</div><div class="r" style="left:1492.4px;top:825px">3,1</div>
<div class="r" style="left:1204.4px;top:844px">ROKRA</div><div class="r" style="left:1492.4px;top:844px">9,9</div>
<div class="r" style="left:1204.4px;top:864px">LOS CABALLEROS</div><div class="r" style="left:1492.4px;top:864px">9,9</div>
<div class="r" style="left:1204.4px;top:883px">GRANJA SOLAR FLANDES</div><div class="r" style="left:1492.4px;top:883px">19,9</div>
<div class="r" style="left:1204.4px;top:902px">CELSIA SOLAR DULIMA</div><div class="r" style="left:1492.4px;top:902px">19,9</div>
<div class="r" style="left:1204.4px;top:921px">LA MEDINA</div><div class="r" style="left:1492.4px;top:921px">9,9</div>
<div class="r" style="left:1204.4px;top:940px">CERRITOS</div><div class="r" style="left:1492.4px;top:940px">9,9</div>
<div class="r" style="left:1204.4px;top:960px">GRANJA SOLAR SAN FELIPE</div><div class="r" style="left:1492.4px;top:960px">9,1</div>
<div class="r" style="left:1204.4px;top:979px">AUTOG CELSIA SOLAR ESPINAL</div><div class="r" style="left:1492.4px;top:979px">9,9</div>
<div class="r" style="left:1204.4px;top:998px">CELSIA SOLAR YUMA</div><div class="r" style="left:1492.4px;top:998px">9,1</div>
<div class="r" style="left:1204.4px;top:1017px">NUMBANA</div><div class="r" style="left:1492.4px;top:1017px">9,9</div>
<div class="r" style="left:1204.4px;top:1036px">GUAMO</div><div class="r" style="left:1492.4px;top:1036px">9</div>
<div class="r" style="left:1204.4px;top:1056px">GRANJA SOLAR LANCEROS</div><div class="r" style="left:1492.4px;top:1056px">9,1</div>
</body></html>
